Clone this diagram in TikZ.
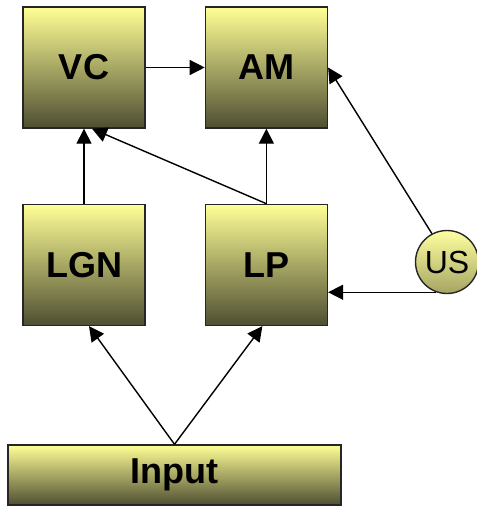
\documentclass[tikz,border=0pt]{standalone}
\usepackage{fontspec}
\setmainfont{Liberation Sans}
\usetikzlibrary{positioning,arrows.meta}
\definecolor{boxtop}{RGB}{255,255,150}
\definecolor{boxmid}{RGB}{195,195,125}
\definecolor{boxbot}{RGB}{78,78,50}
\definecolor{ustop}{RGB}{255,255,160}
\definecolor{usbot}{RGB}{165,165,100}
\tikzset{
	area/.style={draw=black!85, line width=1.4pt, inner sep=0pt,
		top color=boxtop, middle color=boxmid, bottom color=boxbot,
		minimum width=122pt, minimum height=121pt,
		font=\fontsize{36}{40}\selectfont\bfseries},
	link/.style={line width=1.4pt, -{Triangle[length=15pt,width=15pt]}},
}
\begin{document}
\begin{tikzpicture}[x=1pt,y=-1pt]
	\useasboundingbox (0,0) rectangle (476,508);
	%% boxes
	\node[area] (vc) at (84,67.5) {VC};
	\node[area, right=59pt of vc] (am) {AM}; % right
	\node[area, below=75pt of vc] (lgn) {LGN};
	\node[area, below=75pt of am] (lp) {LP};
	\node[area, minimum width=333pt, minimum height=60pt] (input) at (174.5,475) {Input};
	\node[circle, draw=black!85, line width=1.4pt, inner sep=0pt, minimum size=63pt,
		top color=ustop, bottom color=usbot,
		font=\fontsize{32}{36}\selectfont] (us) at (447,262) {US};
	% connectors
	\draw[link] (vc.east) -- (am.west);
	\draw[link] (lgn.north) -- (vc.south);
	\draw[link] (lp.north) -- (am.south);
	\draw[link] (lp.north) -- ([xshift=8pt]vc.south);
	\draw[link] (us.118) -- (am.east);
	\draw[link] (us.250) -- (us.250 -| lp.east);
	\draw[link] (input.north) -- ([xshift=5pt]lgn.south);
	\draw[link] (input.north) -- ([xshift=-4pt]lp.south);
\end{tikzpicture}
\end{document}
